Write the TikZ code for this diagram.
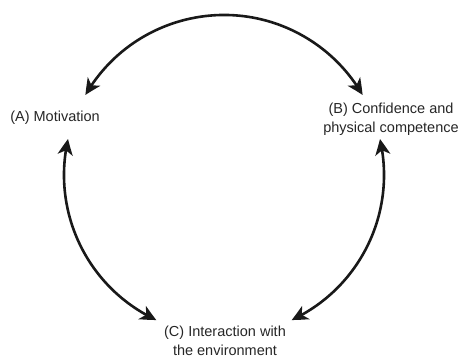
\documentclass[tikz,border=0pt]{standalone}
\usepackage{fontspec}
\setmainfont{Liberation Sans}
\usetikzlibrary{arrows.meta,bending}
\begin{document}
\begin{tikzpicture}[x=1pt,y=1pt,
  lbl/.style={font=\fontsize{14.5}{19}\selectfont, text=black!85, align=center, inner sep=0pt},
  cyc/.style={line width=2.6pt, black!90, {Stealth[length=16pt,width=15pt,inset=4.5pt,bend]}-{Stealth[length=16pt,width=15pt,inset=4.5pt,bend]}}]
\useasboundingbox (0,0) rectangle (460,358);
\coordinate (O) at (224,183);
\node[lbl] (A) at (55,240) {(A) Motivation};
\node[lbl] (B) at (391,239) {(B) Confidence and\\physical competence};
\node[lbl] (C) at (225,17) {(C) Interaction with\\the environment};
\path (O) ++(150:160) coordinate (ab1) (O) ++(167:160) coordinate (ac1) (O) ++(13:160) coordinate (bc1);
\draw[cyc] (ab1) arc[start angle=150, end angle=30, radius=160];
\draw[cyc] (ac1) arc[start angle=167, end angle=245, radius=160];
\draw[cyc] (bc1) arc[start angle=13, end angle=-65, radius=160];
\end{tikzpicture}
\end{document}
